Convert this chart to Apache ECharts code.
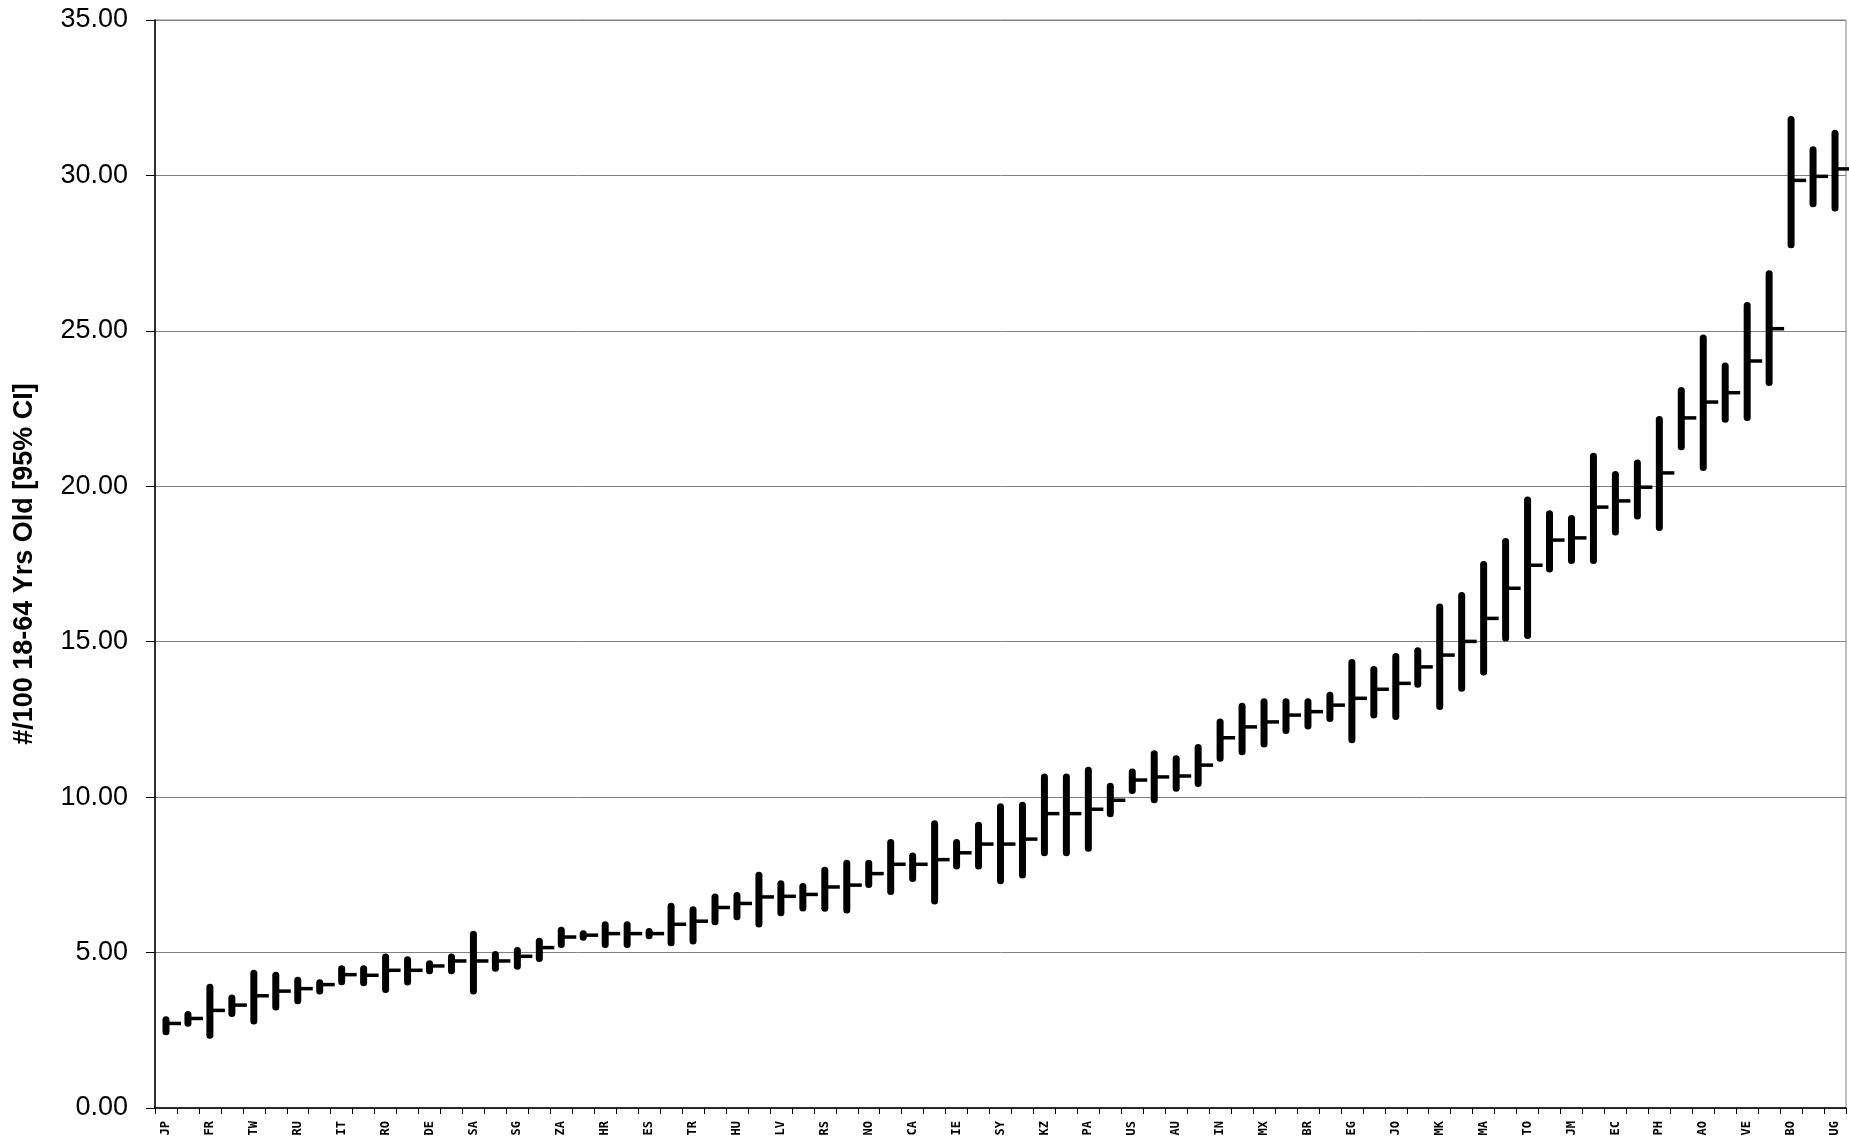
<!DOCTYPE html>
<html>
<head>
<meta charset="utf-8">
<script src="https://cdn.jsdelivr.net/npm/echarts@6/dist/echarts.min.js"></script>
<style>
  html, body { margin: 0; padding: 0; background: #fff; }
  #chart { width: 1849px; height: 1142px; }
</style>
</head>
<body>
<div id="chart"></div>
<script>
// Category labels (every other category is labelled in the original)
const xLabels = [
  'JP','','FR','','TW','','RU','','IT','','RO','','DE','','SA','','SG','','ZA','',
  'HR','','ES','','TR','','HU','','LV','','RS','','NO','','CA','','IE','','SY','',
  'KZ','','PA','','US','','AU','','IN','','MX','','BR','','EG','','JO','','MK','',
  'MA','','TO','','JM','','EC','','PH','','AO','','VE','','BO','','UG'
];

// Lower bound of 95% CI
const lows = [
  2.34, 2.61, 2.23, 2.93, 2.69, 3.14, 3.34, 3.65, 3.95, 3.92,
  3.70, 3.94, 4.30, 4.30, 3.65, 4.38, 4.45, 4.70, 5.15, 5.38,
  5.15, 5.15, 5.43, 5.20, 5.26, 5.88, 6.04, 5.81, 6.17, 6.32,
  6.31, 6.26, 7.08, 6.85, 7.27, 6.55, 7.67, 7.67, 7.20, 7.38,
  8.10, 8.10, 8.24, 9.35, 10.10, 9.80, 10.17, 10.33, 11.14, 11.35,
  11.60, 12.03, 12.18, 12.42, 11.73, 12.53, 12.48, 13.52, 12.80, 13.39,
  13.91, 15.01, 15.09, 17.23, 17.50, 17.50, 18.42, 18.93, 18.56, 21.16,
  20.49, 22.04, 22.10, 23.23, 27.66, 28.98, 28.84
];

// Point estimate
const means = [
  2.72, 2.88, 3.14, 3.31, 3.61, 3.76, 3.84, 3.97, 4.29, 4.27,
  4.43, 4.43, 4.57, 4.73, 4.73, 4.73, 4.88, 5.16, 5.50, 5.56,
  5.61, 5.61, 5.61, 5.91, 6.01, 6.45, 6.58, 6.79, 6.81, 6.87,
  7.11, 7.17, 7.54, 7.84, 7.84, 7.99, 8.21, 8.49, 8.49, 8.65,
  9.47, 9.47, 9.61, 9.90, 10.55, 10.65, 10.68, 11.03, 11.91, 12.26,
  12.42, 12.64, 12.75, 12.96, 13.18, 13.47, 13.66, 14.19, 14.57, 15.01,
  15.75, 16.72, 17.46, 18.27, 18.34, 19.33, 19.53, 19.97, 20.43, 22.20,
  22.71, 23.01, 24.03, 25.07, 29.84, 29.97, 30.21
];

// Upper bound of 95% CI
const highs = [
  2.95, 3.12, 4.00, 3.65, 4.45, 4.38, 4.22, 4.14, 4.59, 4.59,
  4.97, 4.88, 4.75, 4.97, 5.70, 5.05, 5.18, 5.48, 5.83, 5.72,
  6.01, 6.01, 5.79, 6.60, 6.49, 6.90, 6.95, 7.60, 7.33, 7.24,
  7.76, 7.99, 7.99, 8.65, 8.22, 9.26, 8.65, 9.21, 9.80, 9.85,
  10.76, 10.76, 10.98, 10.46, 10.92, 11.51, 11.35, 11.71, 12.53, 13.04,
  13.18, 13.18, 13.18, 13.39, 14.44, 14.22, 14.64, 14.82, 16.23, 16.60,
  17.60, 18.34, 19.67, 19.23, 19.08, 21.08, 20.49, 20.86, 22.26, 23.19,
  24.88, 23.98, 25.93, 26.95, 31.91, 30.94, 31.47
];

const yTicks = { min: 0, max: 35, interval: 5 };

const BAR_W = 7;
const TICK_LEN = 15;
const TICK_W = 3.5;

const seriesData = xLabels.map((_, i) => [i, lows[i], means[i], highs[i]]);

function renderItem(params, api) {
  const x = api.value(0);
  const pLow = api.coord([x, api.value(1)]);
  const pMean = api.coord([x, api.value(2)]);
  const pHigh = api.coord([x, api.value(3)]);
  const cap = BAR_W / 2;
  return {
    type: 'group',
    children: [
      {
        type: 'line',
        shape: { x1: pLow[0], y1: pLow[1] - cap, x2: pHigh[0], y2: pHigh[1] + cap },
        style: { stroke: '#000', lineWidth: BAR_W, lineCap: 'round' }
      },
      {
        type: 'line',
        shape: { x1: pMean[0], y1: pMean[1], x2: pMean[0] + TICK_LEN, y2: pMean[1] },
        style: { stroke: '#000', lineWidth: TICK_W, lineCap: 'butt' }
      }
    ]
  };
}

const chart = echarts.init(document.getElementById('chart'), null, { renderer: 'canvas' });
chart.setOption({
  animation: false,
  backgroundColor: '#fff',
  grid: {
    left: 155, right: 3, top: 20, bottom: 34,
    show: true, borderColor: '#808080', borderWidth: 1, backgroundColor: 'transparent'
  },
  xAxis: {
    type: 'category',
    data: xLabels,
    boundaryGap: true,
    axisLine: { show: true, lineStyle: { color: '#000', width: 1.5 } },
    axisTick: { show: true, interval: 0, length: 6, inside: false, lineStyle: { color: '#000', width: 1 } },
    axisLabel: {
      interval: 0,
      rotate: 90,
      margin: 13,
      color: '#000',
      fontFamily: '"DejaVu Sans Mono", "Liberation Mono", monospace',
      fontWeight: 'bold',
      fontSize: 12
    },
    splitLine: { show: false }
  },
  yAxis: {
    type: 'value',
    min: yTicks.min,
    max: yTicks.max,
    interval: yTicks.interval,
    name: '#/100 18-64 Yrs Old [95% CI]',
    nameLocation: 'middle',
    nameRotate: 90,
    nameGap: 117,
    nameTextStyle: {
      color: '#000',
      fontFamily: '"Liberation Sans", Arial, sans-serif',
      fontWeight: 'bold',
      fontSize: 27
    },
    axisLine: { show: true, lineStyle: { color: '#000', width: 1.5 } },
    axisTick: { show: true, length: 9, inside: false, lineStyle: { color: '#000', width: 1 } },
    axisLabel: {
      margin: 27,
      color: '#000',
      fontFamily: '"Liberation Sans", Arial, sans-serif',
      fontSize: 27,
      formatter: v => v.toFixed(2)
    },
    splitLine: { show: true, lineStyle: { color: '#808080', width: 1 } }
  },
  series: [{
    type: 'custom',
    renderItem: renderItem,
    encode: { x: 0, y: [1, 2, 3] },
    data: seriesData,
    clip: false
  }]
});
</script>
</body>
</html>
